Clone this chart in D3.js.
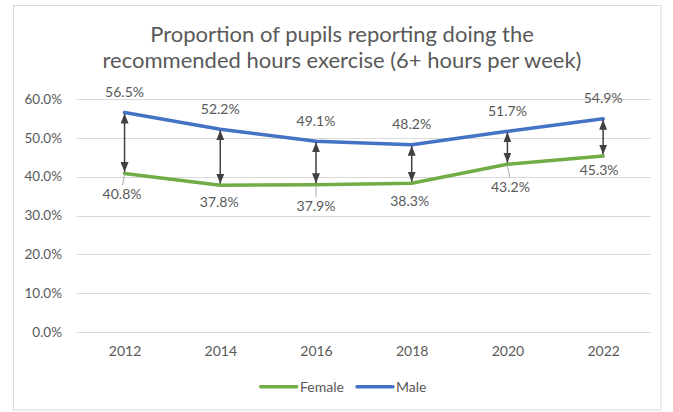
<!DOCTYPE html>
<html>
<head>
<meta charset="utf-8">
<script src="https://cdn.jsdelivr.net/npm/d3@7"></script>
<style>
  html, body { margin: 0; padding: 0; background: #fff; }
  svg { display: block; }
  text { font-family: Lato, "Open Sans", sans-serif; fill: #595959; }
</style>
</head>
<body>
<svg id="chart" width="673" height="412"></svg>
<script>
// ---- data ----
const years = ["2012", "2014", "2016", "2018", "2020", "2022"];
const female = [40.8, 37.8, 37.9, 38.3, 43.2, 45.3];
const male = [56.5, 52.2, 49.1, 48.2, 51.7, 54.9];
const yTicks = [0, 10, 20, 30, 40, 50, 60];
const seriesNames = ["Female", "Male"];
const titleLines = ["Proportion of pupils reporting doing the", "recommended hours exercise (6+ hours per week)"];

// ---- layout (label placement, not data) ----
const femaleLabelNudge = [[-2.5, 20.5], [-1, 16.5], [0, 21], [-2, 17.5], [3, 23], [-4, 14.5]];
const femaleLeader = [true, false, true, false, true, false];
const colors = { Female: "#70AD47", Male: "#4472C4" };

const svg = d3.select("#chart");

svg.append("rect")
  .attr("x", 13.5).attr("y", 5.5).attr("width", 647.5).attr("height", 404.5)
  .attr("fill", "#fff").attr("stroke", "#d9d9d9").attr("stroke-width", 1);

const x = d3.scalePoint().domain(years).range([76.7, 651]).padding(0.5);
const y = d3.scaleLinear().domain([0, 60]).range([332, 99]);

// title
const title = svg.append("text")
  .attr("x", 342).attr("y", 41.5)
  .attr("text-anchor", "middle")
  .style("font-size", "22px");
titleLines.forEach((t, i) => {
  title.append("tspan").attr("x", 342).attr("dy", i === 0 ? 0 : 26.8).text(t);
});

// gridlines + y axis
const yAxis = d3.axisLeft(y).tickValues(yTicks).tickSize(0).tickPadding(14.7)
  .tickFormat(d => d.toFixed(1) + "%");
const gy = svg.append("g").attr("transform", "translate(76.7,0)").call(yAxis);
gy.select(".domain").remove();
gy.selectAll("text").style("font-size", "13.5px").attr("fill", "#595959").style("font-family", "Lato, sans-serif");

svg.append("g").selectAll("line").data(yTicks).join("line")
  .attr("x1", 76.7).attr("x2", 651)
  .attr("y1", d => Math.round(y(d)) + 0.5).attr("y2", d => Math.round(y(d)) + 0.5)
  .attr("stroke", "#d9d9d9").attr("stroke-width", 1);

// x axis
const xAxis = d3.axisBottom(x).tickSize(0).tickPadding(14);
const gx = svg.append("g").attr("transform", "translate(0,332)").call(xAxis);
gx.select(".domain").remove();
gx.selectAll("text").style("font-size", "14px").attr("fill", "#595959").style("font-family", "Lato, sans-serif");

// lines
const line = d3.line().x((d, i) => x(years[i])).y(d => y(d));
[["Female", female], ["Male", male]].forEach(([name, vals]) => {
  svg.append("path").datum(vals)
    .attr("d", line)
    .attr("fill", "none")
    .attr("stroke", colors[name])
    .attr("stroke-width", 3.5)
    .attr("stroke-linejoin", "round")
    .attr("stroke-linecap", "round");
});

// arrow markers
const defs = svg.append("defs");
["arrowEnd", "arrowStart"].forEach((id, k) => {
  defs.append("marker")
    .attr("id", id)
    .attr("viewBox", "0 0 10 8")
    .attr("refX", k === 0 ? 10 : 0).attr("refY", 4)
    .attr("markerUnits", "userSpaceOnUse")
    .attr("markerWidth", 10).attr("markerHeight", 8)
    .attr("orient", "auto")
    .append("path")
    .attr("d", k === 0 ? "M0,0 L10,4 L0,8 Z" : "M10,0 L0,4 L10,8 Z")
    .attr("fill", "#404040");
});

svg.append("g").selectAll("line").data(years).join("line")
  .attr("x1", d => x(d)).attr("x2", d => x(d))
  .attr("y1", (d, i) => y(male[i]) + 1)
  .attr("y2", (d, i) => y(female[i]) - 1.5)
  .attr("stroke", "#404040").attr("stroke-width", 1.5)
  .attr("marker-start", "url(#arrowStart)")
  .attr("marker-end", "url(#arrowEnd)");

// leader lines for female labels
svg.append("g").selectAll("line").data(years.filter((d, i) => femaleLeader[i])).join("line")
  .attr("x1", d => x(d))
  .attr("y1", d => y(female[years.indexOf(d)]) + 1)
  .attr("x2", d => x(d) + femaleLabelNudge[years.indexOf(d)][0] * 0.8)
  .attr("y2", d => y(female[years.indexOf(d)]) + femaleLabelNudge[years.indexOf(d)][1] - 9)
  .attr("stroke", "#a6a6a6").attr("stroke-width", 1);

// data labels
svg.append("g").selectAll("text").data(male).join("text")
  .attr("x", (d, i) => x(years[i]))
  .attr("y", d => y(d) - 20.5)
  .attr("dy", "0.35em")
  .attr("text-anchor", "middle")
  .style("font-size", "14px")
  .text(d => d.toFixed(1) + "%");

svg.append("g").selectAll("text").data(female).join("text")
  .attr("x", (d, i) => x(years[i]) + femaleLabelNudge[i][0])
  .attr("y", (d, i) => y(d) + femaleLabelNudge[i][1])
  .attr("dy", "0.35em")
  .attr("text-anchor", "middle")
  .style("font-size", "14px")
  .text(d => d.toFixed(1) + "%");

// legend
const legend = svg.append("g").attr("transform", "translate(0,386.7)");
const legendX = [[260.7, 300], [357, 396]];
seriesNames.forEach((name, i) => {
  legend.append("line")
    .attr("x1", legendX[i][0]).attr("x2", legendX[i][0] + 36)
    .attr("y1", 0).attr("y2", 0)
    .attr("stroke", colors[name]).attr("stroke-width", 3.5)
    .attr("stroke-linecap", "round");
  legend.append("text")
    .attr("x", legendX[i][1]).attr("y", 0).attr("dy", "0.35em")
    .style("font-size", "14px")
    .text(name);
});
</script>
</body>
</html>
